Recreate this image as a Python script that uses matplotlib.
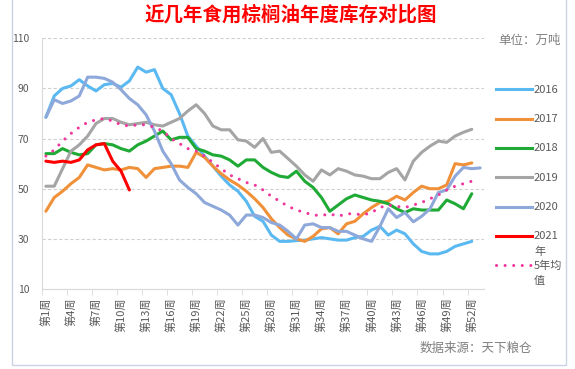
import matplotlib
matplotlib.use("Agg")
import matplotlib.pyplot as plt
from matplotlib.lines import Line2D
from matplotlib.patches import Rectangle
import numpy as np

plt.rcParams['font.family'] = ['Noto Sans CJK SC', 'DejaVu Sans']

# weekly palm oil stocks (10k tonnes)
y2016 = [78.5, 87, 90, 91, 93.5, 91, 89, 91.5, 92, 90.5, 93, 98.5, 96.5, 97.5, 90, 87.5, 80, 71,
         67, 63, 59, 55, 51.5, 49, 45, 39, 37, 31.5, 29, 29, 29.3, 29.5, 30, 30.5, 30, 29.5,
         29.5, 30.5, 31, 33.5, 35, 31.5, 33.5, 32, 28, 25, 24, 24, 25, 27, 28, 29]
y2017 = [41, 46.5, 49, 52, 54.5, 59.5, 58.5, 57.5, 58, 57.5, 58.5, 58, 54.5, 58, 58.5, 59, 59,
         58.5, 64.5, 62.5, 59, 56, 53.5, 51.5, 49, 46, 42.5, 38, 34.5, 31.5, 30, 29, 31, 34,
         34.5, 32, 36, 37, 40, 42.5, 44.5, 45, 47, 45.5, 48.5, 51, 50, 50, 51.5, 60, 59.5, 60.3]
y2018 = [64, 64, 66, 64.5, 63.5, 64, 67.5, 68, 67.5, 66, 65, 67.5, 69, 71, 73, 69.5, 70.5,
         70.5, 66, 65, 63.5, 63, 61.5, 59, 61.5, 61.5, 58.5, 56.5, 55, 54.5, 57, 53, 50.5,
         46.5, 41, 43.5, 46, 47.5, 46.5, 45.5, 45, 44, 42, 40.5, 42, 41.5, 41.5, 41.5, 45.5,
         44, 42, 48]
y2019 = [51, 51, 58, 65, 67.5, 71, 76, 78, 78, 76.5, 75.5, 76, 76.5, 75.5, 75, 76.5, 78, 81,
         83.5, 80, 75, 73.5, 73.5, 69.5, 69, 66.5, 70, 64.5, 65, 62, 59, 55.5, 53, 57.5, 55.5,
         58, 57, 55.5, 55, 54, 54, 56.5, 58, 53.5, 61, 64.5, 67, 69, 68.5, 71, 72.5, 73.7]
y2020 = [78.5, 85.5, 84, 85, 87, 94.5, 94.5, 94, 92.5, 89.5, 86, 83.5, 79.5, 73, 65, 60, 53.5,
         50.5, 48, 44.5, 43, 41.5, 39.5, 35.5, 39.5, 39.5, 38.5, 36.5, 35.5, 33, 30, 35.5, 36,
         34.5, 34.5, 33, 33, 31.5, 30, 29, 35, 42, 38.5, 40.5, 36.8, 39, 42, 48.5, 49.5, 55,
         58.5, 58, 58.3]
y2021 = [61, 60.5, 61, 60.5, 61.5, 65.5, 67.5, 68, 61, 57, 49.5]
avg5 = [63, 65.5, 69, 72, 74.5, 76.5, 77.5, 78, 77, 75.5, 75, 75.5, 75.5, 74.5, 73, 70, 68, 66,
        65, 63, 60.5, 58, 55.5, 54, 52.5, 51.5, 49.5, 47, 45, 43, 41.5, 40.5, 39.5, 39.3, 40,
        39, 40, 40, 39.5, 40.5, 42.5, 43.5, 43, 42.5, 43.5, 44.5, 46, 47.5, 49.5, 51, 52, 53]

tick_weeks = list(range(1, 53, 3))
tick_labels = ["第%d周" % w for w in tick_weeks]
yticks = [10, 30, 50, 70, 90, 110]

series = [
    ("2016", y2016, "#5BB9F2", "-"),
    ("2017", y2017, "#F0913A", "-"),
    ("2018", y2018, "#1FAA35", "-"),
    ("2019", y2019, "#A5A5A5", "-"),
    ("2020", y2020, "#8EA8DA", "-"),
    ("2021\n年", y2021, "#FF0000", "-"),
    ("5年均\n值", avg5, "#F0359B", (0, (0.01, 2.8))),
]

W, H = 575, 369
fig = plt.figure(figsize=(W / 100, H / 100), dpi=100)
ax = fig.add_axes([41.7 / W, 1 - 289 / H, (484.3 - 41.7) / W, (289 - 38.3) / H])

for label, vals, color, ls in series:
    x = np.arange(1, len(vals) + 1)
    ax.plot(x, vals, color=color, lw=2.2, ls=ls, solid_joinstyle="round",
            solid_capstyle="round", dash_capstyle="round")

ax.set_xlim(0.5, 53.5)
ax.set_ylim(10, 110)
ax.set_yticks(yticks)
ax.set_xticks(tick_weeks)
ax.set_xticklabels(tick_labels, rotation=90)
ax.set_xticks(np.arange(0.5, 52, 3), minor=True)
ax.tick_params(axis="x", which="major", length=0, pad=6, labelsize=8, labelcolor="#595959")
ax.tick_params(axis="x", which="minor", length=4, color="#D9D9D9")
ax.tick_params(axis="y", length=0, pad=9, labelsize=7.5, labelcolor="#595959")
ax.grid(axis="y", color="#D0D0D0", ls=(0, (3, 2)), lw=0.8)
ax.set_axisbelow(True)
for s in ["top", "right"]:
    ax.spines[s].set_visible(False)
for s in ["left", "bottom"]:
    ax.spines[s].set_color("#D9D9D9")

# legend drawn by hand so two-line labels sit like the original
for i, (label, vals, color, ls) in enumerate(series):
    yy = 1 - (89.3 + i * 29.3) / H
    fig.add_artist(Line2D([496 / W, 532 / W], [yy, yy], color=color, lw=2.2, ls=ls,
                          dash_capstyle="round"))
    fig.text(534 / W, yy + 4.5 / H, label, va="top", ha="left", fontsize=8,
             color="#595959", linespacing=1.6)

fig.text(0.505, 1 - 15 / H, "近几年食用棕榈油年度库存对比图", ha="center", va="center",
         fontsize=14, fontweight="bold", color="#FF0000")
fig.text(561 / W, 1 - 40 / H, "单位：万吨", ha="right", va="center", fontsize=9,
         color="#808080")
fig.text(532 / W, 1 - 348 / H, "数据来源：天下粮仓", ha="right", va="center", fontsize=9,
         color="#7F7F7F", style="italic")

fig.add_artist(Rectangle((11.5 / W, 1 - 365 / H), (566 - 11.5) / W, 365 / H + 0.05,
                         fill=False, edgecolor="#C9D3E3", lw=1))

fig.savefig("out.png", dpi=100)
